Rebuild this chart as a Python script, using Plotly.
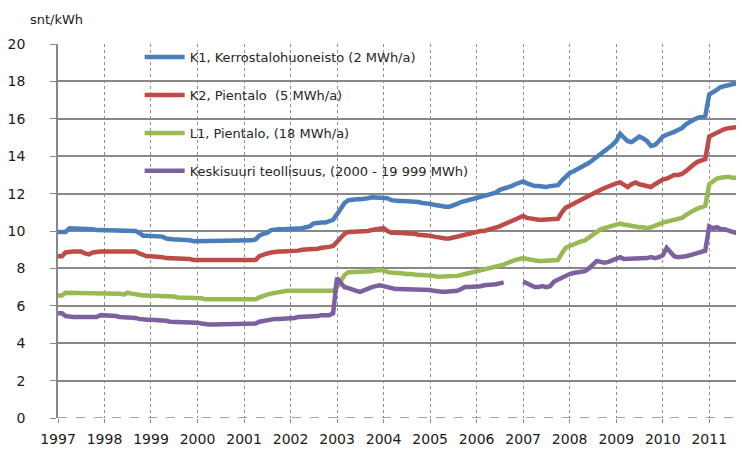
import pandas as pd
import plotly.graph_objects as go

months = pd.date_range("1997-01-01", periods=177, freq="MS")

series_names = [
    "K1, Kerrostalohuoneisto (2 MWh/a)",
    "K2, Pientalo  (5 MWh/a)",
    "L1, Pientalo, (18 MWh/a)",
    "Keskisuuri teollisuus, (2000 - 19 999 MWh)",
]
series_colors = ["#4A7EBB", "#BE4B48", "#98B954", "#7D60A0"]

k1 = [
    9.95, 9.95, 9.95, 10.15, 10.15, 10.15, 10.15, 10.15, 10.15, 10.1, 10.05, 10.05,
    10.05, 10.05, 10.05, 10.05, 10.05, 10.05, 10.05, 10.05, 10.0, 9.9, 9.75, 9.75,
    9.75, 9.75, 9.75, 9.7, 9.6, 9.55, 9.55, 9.55, 9.55, 9.5, 9.5, 9.45,
    9.45, 9.45, 9.45, 9.45, 9.45, 9.45, 9.45, 9.45, 9.45, 9.45, 9.45, 9.45,
    9.45, 9.45, 9.5, 9.55, 9.75, 9.85, 9.9, 10.05, 10.1, 10.1, 10.1, 10.1,
    10.1, 10.15, 10.15, 10.15, 10.2, 10.25, 10.4, 10.45, 10.45, 10.45, 10.5, 10.6,
    10.9, 11.2, 11.5, 11.65, 11.7, 11.7, 11.7, 11.7, 11.75, 11.8, 11.8, 11.8,
    11.8, 11.75, 11.65, 11.6, 11.6, 11.6, 11.6, 11.55, 11.55, 11.55, 11.5, 11.5,
    11.45, 11.4, 11.35, 11.3, 11.3, 11.3, 11.35, 11.45, 11.55, 11.6, 11.7, 11.75,
    11.8, 11.85, 11.85, 11.9, 11.95, 12.05, 12.2, 12.25, 12.3, 12.4, 12.5, 12.6,
    12.65, 12.55, 12.45, 12.4, 12.4, 12.35, 12.35, 12.4, 12.4, 12.45, 12.7, 12.9,
    13.1, 13.2, 13.3, 13.4, 13.5, 13.65, 13.8, 13.95, 14.1, 14.3, 14.4, 14.6,
    14.8, 15.2, 15.0, 14.8, 14.75, 14.9, 15.05, 14.95, 14.8, 14.55, 14.6, 14.8,
    15.05, 15.15, 15.2, 15.3, 15.4, 15.5, 15.7, 15.85, 15.95, 16.05, 16.1, 16.15,
    17.3, 17.4, 17.55, 17.7, 17.75, 17.8, 17.9, 17.9, 17.85,
]

k2 = [
    8.65, 8.65, 8.85, 8.9, 8.9, 8.9, 8.9, 8.8, 8.75, 8.85, 8.9, 8.9,
    8.9, 8.9, 8.9, 8.9, 8.9, 8.9, 8.9, 8.9, 8.9, 8.8, 8.7, 8.65,
    8.65, 8.65, 8.65, 8.6, 8.55, 8.55, 8.5, 8.5, 8.5, 8.5, 8.5, 8.45,
    8.45, 8.4, 8.4, 8.4, 8.4, 8.4, 8.4, 8.4, 8.4, 8.4, 8.4, 8.4,
    8.4, 8.4, 8.4, 8.45, 8.65, 8.75, 8.8, 8.85, 8.9, 8.9, 8.9, 8.9,
    8.95, 8.95, 8.95, 9.0, 9.0, 9.0, 9.05, 9.05, 9.1, 9.1, 9.15, 9.2,
    9.4, 9.65, 9.85, 9.95, 9.95, 9.95, 9.95, 10.0, 10.0, 10.05, 10.1, 10.15,
    10.15, 10.0, 9.9, 9.9, 9.9, 9.9, 9.85, 9.85, 9.85, 9.8, 9.8, 9.8,
    9.75, 9.7, 9.65, 9.6, 9.6, 9.6, 9.65, 9.75, 9.8, 9.85, 9.9, 9.95,
    9.95, 10.0, 10.0, 10.05, 10.1, 10.15, 10.25, 10.35, 10.45, 10.55, 10.65, 10.75,
    10.8, 10.7, 10.65, 10.6, 10.6, 10.6, 10.6, 10.6, 10.6, 10.65, 11.0, 11.25,
    11.35, 11.45, 11.55, 11.65, 11.75, 11.85, 12.0, 12.1, 12.2, 12.3, 12.4, 12.5,
    12.55, 12.6, 12.5, 12.35, 12.5, 12.6, 12.5, 12.45, 12.4, 12.35, 12.5, 12.65,
    12.75, 12.8, 12.9, 13.0, 13.0, 13.05, 13.2, 13.4, 13.55, 13.7, 13.8, 13.85,
    15.05, 15.15, 15.3, 15.4, 15.45, 15.5, 15.55, 15.55, 15.5,
]

l1 = [
    6.55, 6.55, 6.7, 6.7, 6.7, 6.7, 6.7, 6.65, 6.65, 6.65, 6.65, 6.7,
    6.7, 6.7, 6.7, 6.7, 6.65, 6.6, 6.7, 6.65, 6.6, 6.55, 6.55, 6.55,
    6.55, 6.55, 6.5, 6.5, 6.5, 6.5, 6.5, 6.45, 6.45, 6.45, 6.45, 6.4,
    6.4, 6.4, 6.35, 6.35, 6.35, 6.35, 6.3, 6.3, 6.3, 6.3, 6.3, 6.3,
    6.3, 6.3, 6.3, 6.35, 6.45, 6.55, 6.6, 6.65, 6.7, 6.75, 6.8, 6.8,
    6.8, 6.8, 6.8, 6.8, 6.8, 6.8, 6.8, 6.8, 6.8, 6.8, 6.8, 6.8,
    7.0, 7.35, 7.65, 7.8, 7.8, 7.85, 7.85, 7.85, 7.85, 7.85, 7.9, 7.9,
    7.9, 7.8, 7.75, 7.75, 7.75, 7.7, 7.7, 7.7, 7.65, 7.65, 7.65, 7.65,
    7.6, 7.6, 7.55, 7.55, 7.55, 7.55, 7.55, 7.6, 7.65, 7.7, 7.75, 7.8,
    7.8, 7.85, 7.9, 7.95, 8.0, 8.05, 8.1, 8.2, 8.3, 8.4, 8.45, 8.5,
    8.55, 8.5, 8.45, 8.45, 8.4, 8.4, 8.4, 8.4, 8.4, 8.45, 8.8, 9.1,
    9.2, 9.3, 9.35, 9.45, 9.5, 9.65, 9.85, 10.0, 10.1, 10.15, 10.2, 10.3,
    10.35, 10.4, 10.35, 10.3, 10.25, 10.25, 10.2, 10.2, 10.15, 10.2, 10.3, 10.4,
    10.45, 10.5, 10.55, 10.6, 10.6, 10.7, 10.85, 11.0, 11.1, 11.2, 11.3, 11.35,
    12.5, 12.7, 12.8, 12.85, 12.9, 12.9, 12.85, 12.85, 12.85,
]

keski = [
    5.6, 5.6, 5.45, 5.4, 5.4, 5.4, 5.4, 5.35, 5.35, 5.35, 5.4, 5.5,
    5.5, 5.5, 5.5, 5.45, 5.4, 5.4, 5.4, 5.4, 5.35, 5.3, 5.25, 5.25,
    5.25, 5.25, 5.25, 5.2, 5.2, 5.15, 5.15, 5.1, 5.1, 5.1, 5.1, 5.1,
    5.1, 5.05, 5.0, 5.0, 5.0, 5.0, 5.0, 5.0, 5.0, 5.0, 5.0, 5.0,
    5.0, 5.0, 5.0, 5.05, 5.15, 5.2, 5.25, 5.3, 5.3, 5.3, 5.3, 5.3,
    5.35, 5.35, 5.4, 5.4, 5.4, 5.4, 5.45, 5.45, 5.5, 5.5, 5.5, 5.6,
    7.5, 7.2, 7.0, 6.95, 6.85, 6.8, 6.75, 6.85, 6.95, 7.0, 7.05, 7.1,
    7.05, 7.0, 6.9, 6.9, 6.9, 6.9, 6.9, 6.9, 6.9, 6.9, 6.9, 6.9,
    6.85, 6.8, 6.75, 6.75, 6.75, 6.75, 6.75, 6.8, 6.9, 7.0, 7.0, 7.0,
    7.05, 7.05, 7.1, 7.1, 7.1, 7.15, 7.2, 7.25, None, None, None, None,
    7.3, 7.2, 7.1, 7.0, 7.0, 7.05, 7.0, 7.05, 7.3, 7.4, 7.55, 7.6,
    7.7, 7.75, 7.8, 7.8, 7.85, 8.0, 8.2, 8.4, 8.35, 8.3, 8.35, 8.45,
    8.55, 8.6, 8.5, 8.5, 8.55, 8.5, 8.5, 8.55, 8.55, 8.6, 8.55, 8.6,
    8.7, 9.1, 8.9, 8.65, 8.6, 8.6, 8.65, 8.7, 8.75, 8.8, 8.85, 8.95,
    10.25, 10.15, 10.2, 10.1, 10.1, 10.0, 9.95, 9.9, 9.8,
]

all_series = [k1, k2, l1, keski]

# The page adds an 8px body margin, so the figure is 8px smaller than the window.
FIG_W, FIG_H = 736, 446
ML, MR, MT, MB = 40, 0, 36, 36
PW = FIG_W - ML - MR
PH = FIG_H - MT - MB

fig = go.Figure()
for i, (name, color, vals) in enumerate(zip(series_names, series_colors, all_series)):
    fig.add_trace(go.Scatter(
        x=months, y=vals, name=name, mode="lines",
        line=dict(color=color, width=4.5),
        connectgaps=False, legendgroup=f"g{i}",
    ))

fig.update_layout(
    width=FIG_W, height=FIG_H,
    margin=dict(l=ML, r=MR, t=MT, b=MB),
    paper_bgcolor="white", plot_bgcolor="white",
    font=dict(family="DejaVu Sans", size=14, color="#1a1a1a"),
    showlegend=True,
    legend=dict(
        x=0.119, y=1.005, xanchor="left", yanchor="top",
        bgcolor="rgba(0,0,0,0)", borderwidth=0,
        font=dict(family="DejaVu Sans", size=13, color="#262626"),
        tracegroupgap=18, itemwidth=40,
    ),
    xaxis=dict(
        type="date",
        range=["1997-01-01", "2011-10-01"],
        tick0="1997-01-01", dtick="M12", tickformat="%Y",
        showgrid=True, gridcolor="#8f8f8f", griddash="dot", gridwidth=1,
        ticks="outside", ticklen=4, tickcolor="#8c8c8c",
        showline=False, zeroline=False,
        ticklabelstandoff=4,
        tickfont=dict(family="DejaVu Sans", size=14, color="#1a1a1a"),
    ),
    yaxis=dict(
        range=[0, 20], dtick=2, tick0=0,
        showgrid=True, gridcolor="#888888", gridwidth=1.5,
        showline=True, linecolor="#888888", linewidth=1.5,
        ticks="outside", ticklen=6, tickcolor="#888888",
        zeroline=False,
        ticklabelstandoff=22,
        tickfont=dict(family="DejaVu Sans", size=14, color="#1a1a1a"),
    ),
    annotations=[dict(
        text="snt/kWh", xref="paper", yref="paper",
        x=(10 - ML) / PW, y=1 + 24 / PH, xanchor="left", yanchor="middle",
        showarrow=False, font=dict(family="DejaVu Sans", size=13, color="#1a1a1a"),
    )],
    shapes=[dict(
        type="line", xref="paper", yref="y", x0=0, x1=1, y0=0, y1=0,
        line=dict(color="#888888", width=1.5, dash="dash"), layer="above",
    )],
)

fig.write_html("out.html")
